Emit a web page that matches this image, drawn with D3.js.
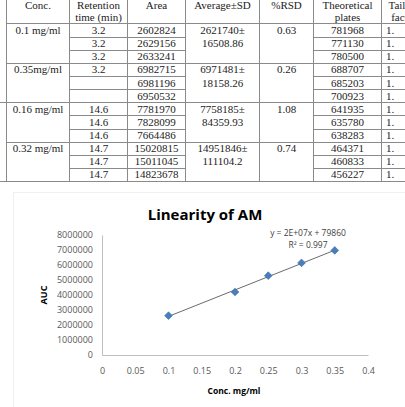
<!DOCTYPE html>
<html><head><meta charset="utf-8">
<script src="https://cdn.jsdelivr.net/npm/d3@7"></script>
<style>
html,body{margin:0;padding:0;background:#fff;}
svg{display:block;}
</style></head>
<body>
<svg id="c" width="405" height="407"></svg>
<script>
// ---- Table data ----
const tableHeaders = [["Conc."],["Retention","time (min)"],["Area"],["Average±SD"],["%RSD"],["Theoretical","plates"],["Tailing","factor"]];
const groupConc = ["0.1 mg/ml","0.35mg/ml","0.16 mg/ml","0.32 mg/ml"];
const retention = ["3.2","3.2","3.2","3.2","","","14.6","14.6","14.6","14.7","14.7","14.7"];
const areas = ["2602824","2629156","2633241","6982715","6981196","6950532","7781970","7828099","7664486","15020815","15011045","14823678"];
const groupAvg = ["2621740±","6971481±","7758185±","14951846±"];
const groupSD = ["16508.86","18158.26","84359.93","111104.2"];
const groupRSD = ["0.63","0.26","1.08","0.74"];
const plates = ["781968","771130","780500","688707","685203","700923","641935","635780","638283","464371","460833","456227"];
const tailing = ["1.","1.","1.","1.","1.","1.","1.","1.","1.","1.","1.","1."];

// ---- Chart data ----
const chartTitle = "Linearity of AM";
const concX = [0.1, 0.2, 0.25, 0.3, 0.35];
const aucY = [2621740, 4200000, 5290000, 6140000, 6971481];
const xTicks = [0, 0.05, 0.1, 0.15, 0.2, 0.25, 0.3, 0.35, 0.4];
const yTicks = [0, 1000000, 2000000, 3000000, 4000000, 5000000, 6000000, 7000000, 8000000];
const eqText = "y = 2E+07x + 79860";
const r2Text = "R² = 0.997";

const svg = d3.select("#c");

// ================= TABLE =================
const colX = [6.5, 69.5, 127.5, 185.5, 259.5, 313.5, 381.5, 440];
const headTop = -4, headBottom = 23.5, rowH = 13.13;
const rowY = i => headBottom + i * rowH;
const lineCol = "#8a8a8a";
const tg = svg.append("g");
const serif = "'Liberation Serif','Times New Roman',serif";

// vertical lines
colX.slice(0, 7).forEach(x => {
  tg.append("line").attr("x1", x).attr("x2", x).attr("y1", headTop).attr("y2", rowY(12))
    .attr("stroke", lineCol).attr("stroke-width", 1);
});
// header bottom
tg.append("line").attr("x1", colX[0]).attr("x2", 405).attr("y1", headBottom).attr("y2", headBottom)
  .attr("stroke", lineCol);
// row lines
for (let i = 1; i <= 12; i++) {
  const y = Math.round(rowY(i)) + 0.5;
  if (i % 3 === 0) {
    const x0 = (i === 6 || i === 12) ? 0 : colX[0];
    tg.append("line").attr("x1", x0).attr("x2", 405).attr("y1", y).attr("y2", y).attr("stroke", lineCol);
  } else {
    [[1, 3], [5, 7]].forEach(([a, b]) => {
      tg.append("line").attr("x1", colX[a]).attr("x2", colX[b]).attr("y1", y).attr("y2", y).attr("stroke", lineCol);
    });
  }
}
// header text
tableHeaders.forEach((lines, c) => {
  const cx = c === 6 ? 404 : (colX[c] + colX[c + 1]) / 2;
  lines.forEach((t, k) => {
    tg.append("text").attr("x", cx).attr("y", 9 + k * 11.5).attr("text-anchor", "middle")
      .attr("font-family", serif).attr("font-size", 11).attr("fill", "#222").text(t);
  });
});
const cellText = (c, r, t, anchor) => {
  const cx = (colX[c] + colX[c + 1]) / 2;
  tg.append("text").attr("x", anchor === "start" ? 386 : cx).attr("y", rowY(r) + 10.5)
    .attr("text-anchor", anchor || "middle")
    .attr("font-family", serif).attr("font-size", 11).attr("fill", "#222").text(t);
};
groupConc.forEach((t, g) => cellText(0, g * 3, t));
retention.forEach((t, i) => cellText(1, i, t));
areas.forEach((t, i) => cellText(2, i, t));
groupAvg.forEach((t, g) => { cellText(3, g * 3, t); cellText(3, g * 3 + 1, groupSD[g]); });
groupRSD.forEach((t, g) => cellText(4, g * 3, t));
plates.forEach((t, i) => cellText(5, i, t));
tailing.forEach((t, i) => cellText(6, i, t, "start"));

// ================= CHART =================
const sans = "'Open Sans','Liberation Sans',Arial,sans-serif";
const cg = svg.append("g");
cg.append("rect").attr("x", 13.5).attr("y", 192.5).attr("width", 420).attr("height", 240)
  .attr("fill", "none").attr("stroke", "#f0f0f0");

const x = d3.scaleLinear().domain([0, 0.4]).range([102, 368]);
const y = d3.scaleLinear().domain([0, 8000000]).range([355, 235]);

cg.append("text").attr("x", 205).attr("y", 219.5).attr("text-anchor", "middle")
  .attr("font-family", sans).attr("font-weight", "bold").attr("font-size", 15).attr("fill", "#000")
  .text(chartTitle);

const xAxis = cg.append("g").attr("transform", `translate(0,${y(0)})`)
  .call(d3.axisBottom(x).tickValues(xTicks).tickSize(0).tickPadding(13).tickFormat(d => String(d)));
const yAxis = cg.append("g").attr("transform", `translate(${x(0)},0)`)
  .call(d3.axisLeft(y).tickValues(yTicks).tickSize(0).tickPadding(9).tickFormat(d => String(d)));
[xAxis, yAxis].forEach(a => {
  a.select(".domain").attr("stroke", "#bfbfbf");
  a.selectAll("text").attr("font-family", sans).attr("font-size", 9).attr("fill", "#595959");
});

cg.append("text").attr("x", 234).attr("y", 393.5).attr("text-anchor", "middle")
  .attr("font-family", sans).attr("font-weight", "bold").attr("font-size", 8.5).attr("fill", "#000")
  .text("Conc. mg/ml");
cg.append("text").attr("transform", `translate(47,${(y(0) + y(8000000)) / 2}) rotate(-90)`)
  .attr("text-anchor", "middle")
  .attr("font-family", sans).attr("font-weight", "bold").attr("font-size", 9).attr("fill", "#000")
  .text("AUC");

// least squares trendline
const mx = d3.mean(concX), my = d3.mean(aucY);
const slope = d3.sum(concX, (v, i) => (v - mx) * (aucY[i] - my)) / d3.sum(concX, v => (v - mx) ** 2);
const icpt = my - slope * mx;
const x0 = d3.min(concX), x1 = d3.max(concX);
cg.append("line").attr("x1", x(x0)).attr("y1", y(slope * x0 + icpt)).attr("x2", x(x1)).attr("y2", y(slope * x1 + icpt))
  .attr("stroke", "#6b6b6b").attr("stroke-width", 1);

const sym = d3.symbol().type(d3.symbolSquare).size(30);
cg.selectAll("path.pt").data(concX).join("path").attr("class", "pt")
  .attr("d", sym)
  .attr("transform", (d, i) => `translate(${x(d)},${y(aucY[i])}) rotate(45)`)
  .attr("fill", "#4A7EBB").attr("stroke", "#3D6DA6").attr("stroke-width", 0.6);

cg.append("text").attr("x", 308).attr("y", 235.5).attr("text-anchor", "middle")
  .attr("font-family", sans).attr("font-size", 8.5).attr("fill", "#404040").text(eqText);
cg.append("text").attr("x", 308).attr("y", 247.5).attr("text-anchor", "middle")
  .attr("font-family", sans).attr("font-size", 8.5).attr("fill", "#404040").text(r2Text);
</script>
</body></html>
